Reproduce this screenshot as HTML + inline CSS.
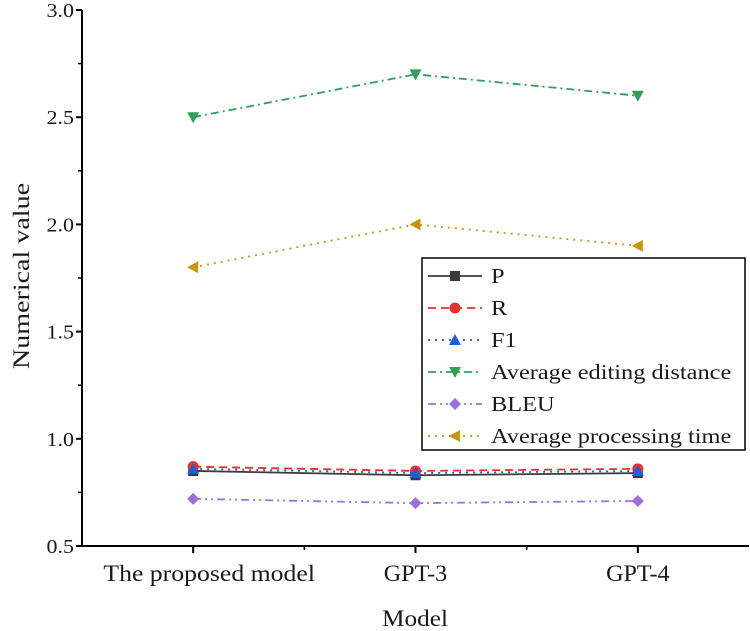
<!DOCTYPE html>
<html><head><meta charset="utf-8"><style>
body{margin:0;background:#fff;}
svg{display:block;font-family:"Liberation Serif",serif;}
</style></head><body>
<svg id="chart" width="750" height="631"></svg>
<script>
const categories=["The proposed model","GPT-3","GPT-4"];
const seriesNames=["P","R","F1","Average editing distance","BLEU","Average processing time"];
const pVals=[0.85,0.83,0.84];
const rVals=[0.87,0.85,0.86];
const f1Vals=[0.86,0.84,0.85];
const aedVals=[2.5,2.7,2.6];
const bleuVals=[0.72,0.70,0.71];
const aptVals=[1.8,2.0,1.9];
const yTicks=[0.5,1.0,1.5,2.0,2.5,3.0];

const NS="http://www.w3.org/2000/svg";
const svg=document.getElementById('chart');
const X0=82,X1=749,Y0=546,Y1=10;
const xs=i=>X0+(i+0.5)*(X1-X0)/3;
const ys=v=>Y0-(v-0.5)/(2.5)*(Y0-Y1);
function mk(t,a,p){const e=document.createElementNS(NS,t);for(const k in a)e.setAttribute(k,a[k]);(p||svg).appendChild(e);return e;}
function txt(x,y,s,size,anchor,sx,p,rot){
  const a={x:0,y:0,'text-anchor':anchor,'font-size':size,fill:'#1a1a1a',
    transform:`translate(${x},${y})`+(rot?` rotate(${rot})`:'')+` scale(${sx},1)`};
  const t=mk('text',a,p);t.textContent=s;return t;
}

let ax=mk('line',{x1:X0,y1:Y0,x2:X1,y2:Y0,stroke:'#000','stroke-width':2});


ax=mk('line',{x1:X0,y1:Y0+1,x2:X0,y2:Y1,stroke:'#000','stroke-width':2});


yTicks.forEach((v,i)=>{
  mk('line',{x1:X0-6,y1:ys(v),x2:X0,y2:ys(v),stroke:'#000','stroke-width':2});
  if(i<yTicks.length-1){const m=ys(v+0.25);mk('line',{x1:X0-4,y1:m,x2:X0,y2:m,stroke:'#000','stroke-width':1.5});}
  const t=txt(X0-8,ys(v)+7,v.toFixed(1),20,'end',1.1);
  
  
});
categories.forEach((c,i)=>{
  mk('line',{x1:xs(i),y1:Y0,x2:xs(i),y2:Y0+7,stroke:'#000','stroke-width':2});
  if(i<2)mk('line',{x1:xs(i+0.5),y1:Y0,x2:xs(i+0.5),y2:Y0+4,stroke:'#000','stroke-width':1.5});
  const t=txt(xs(i)+16*(i==0?1:0),Y0+35,c,23,'middle',i==0?1.12:1.05);
  
  
});
let t=txt(415,626,'Model',23,'middle',1.1);


t=txt(29,276,'Numerical value',23,'middle',1.22,null,-90);



function marker(kind,x,y,col,p){
  if(kind==='sq')return mk('rect',{x:x-5,y:y-5,width:10,height:10,fill:col},p);
  if(kind==='ci')return mk('circle',{cx:x,cy:y,r:5.5,fill:col},p);
  if(kind==='tu')return mk('polygon',{points:`${x},${y-6} ${x+6},${y+5} ${x-6},${y+5}`,fill:col},p);
  if(kind==='td')return mk('polygon',{points:`${x-6},${y-5} ${x+6},${y-5} ${x},${y+6}`,fill:col},p);
  if(kind==='di')return mk('polygon',{points:`${x},${y-6} ${x+6},${y} ${x},${y+6} ${x-6},${y}`,fill:col},p);
  if(kind==='tl')return mk('polygon',{points:`${x-6},${y} ${x+5},${y-6} ${x+5},${y+6}`,fill:col},p);
}
const series=[
 {d:pVals,c:'#3a3a3a',dash:'',m:'sq',n:'series-p'},
 {d:rVals,c:'#e8302c',dash:'8,5',m:'ci',n:'series-r'},
 {d:f1Vals,c:'#1f5fd6',dash:'2,5',m:'tu',n:'series-f1'},
 {d:aedVals,c:'#2ea05a',dash:'8,4,2,4',m:'td',n:'series-average-editing-distance'},
 {d:bleuVals,c:'#9b6fe0',dash:'8,4,2,4,2,4',m:'di',n:'series-bleu'},
 {d:aptVals,c:'#c8960a',dash:'2,5',m:'tl',n:'series-average-processing-time'}
];
series.forEach(s=>{
  const g=mk('g',{});
  
  
  mk('polyline',{points:s.d.map((v,i)=>xs(i)+','+ys(v)).join(' '),fill:'none',stroke:s.c,'stroke-width':1.8,'stroke-dasharray':s.dash},g);
  s.d.forEach((v,i)=>{const m=marker(s.m,xs(i),ys(v),s.c,g);
    
    });
});
const lg=mk('g',{});


mk('rect',{x:422,y:258,width:323,height:192,fill:'#fff',stroke:'#000','stroke-width':1.5},lg);
series.forEach((s,i)=>{
  const y=276+i*32;
  const e=mk('g',{},lg);
  
  
  mk('line',{x1:428,y1:y,x2:482,y2:y,stroke:s.c,'stroke-width':1.8,'stroke-dasharray':s.dash},e);
  marker(s.m,455,y,s.c,e);
  txt(491,y+7,seriesNames[i],21,'start',1.16,e);
});
</script>
</body></html>
